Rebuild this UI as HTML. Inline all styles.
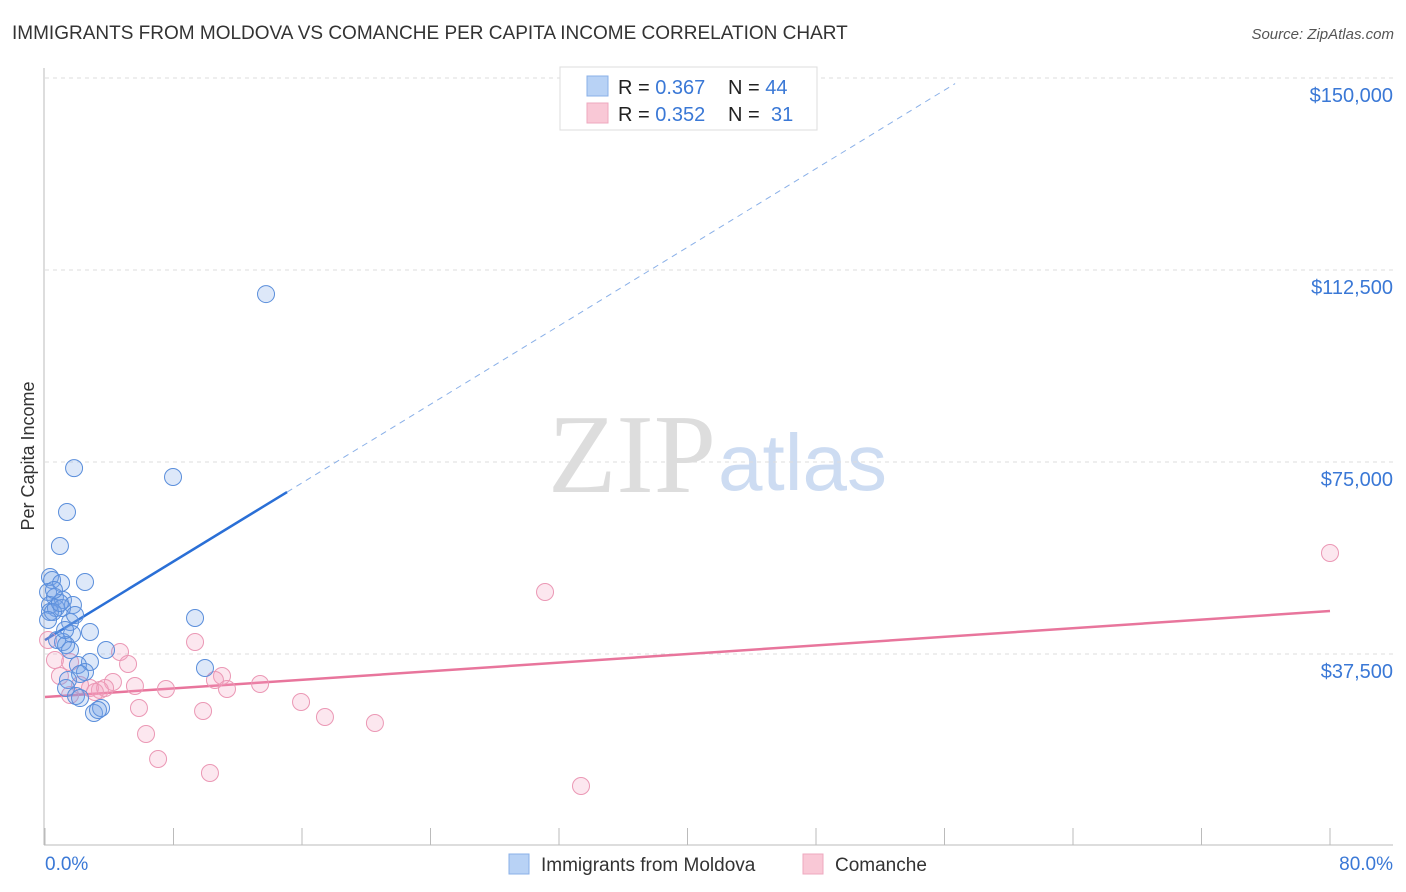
<!DOCTYPE html>
<html><head><meta charset="utf-8"><style>
body{margin:0;background:#fff;font-family:"Liberation Sans",sans-serif;}
svg{display:block}
</style></head><body>
<svg id="chart" width="1406" height="892" xmlns="http://www.w3.org/2000/svg">
<text x="12" y="39" font-size="19" fill="#333">IMMIGRANTS FROM MOLDOVA VS COMANCHE PER CAPITA INCOME CORRELATION CHART</text>
<text x="1394" y="39" font-size="15" fill="#555" font-style="italic" text-anchor="end">Source: ZipAtlas.com</text>
<text x="716" y="492" font-size="112" fill="#ddd" text-anchor="end" font-family="Liberation Serif,serif">ZIP</text>
<text x="718" y="490" font-size="80" fill="#cddcf2">atlas</text>
<text transform="translate(34,456) rotate(-90)" font-size="18" fill="#333" text-anchor="middle">Per Capita Income</text>
<g id="grid"></g><g id="axes"></g><g id="lines"></g><g id="dots"></g>
<g>
<rect x="560" y="67" width="257" height="63" fill="#fff" stroke="#ddd"/>
<rect x="587" y="76" width="21" height="20" fill="#b8d2f5" stroke="#8ab0e8"/>
<rect x="587" y="103" width="21" height="20" fill="#f9c8d6" stroke="#eea8bf"/>
<text x="618" y="94" font-size="20" fill="#222">R = <tspan fill="#3a78d6">0.367</tspan></text>
<text x="728" y="94" font-size="20" fill="#222">N = <tspan fill="#3a78d6">44</tspan></text>
<text x="618" y="121" font-size="20" fill="#222">R = <tspan fill="#3a78d6">0.352</tspan></text>
<text x="728" y="121" font-size="20" fill="#222">N = <tspan x="771" fill="#3a78d6">31</tspan></text>
</g>
<g>
<rect x="509" y="854" width="20" height="20" fill="#b8d2f5" stroke="#8ab0e8"/>
<text x="541" y="871" font-size="19" fill="#333">Immigrants from Moldova</text>
<rect x="803" y="854" width="20" height="20" fill="#f9c8d6" stroke="#eea8bf"/>
<text x="835" y="871" font-size="19" fill="#333">Comanche</text>
</g>
</svg>
<script>
const yTicks=[37500,75000,112500,150000];
const yTickLabels=["$37,500","$75,000","$112,500","$150,000"];
const blueX=[13.76,1.81,7.97,1.37,0.93,0.31,0.44,2.49,1.0,0.19,0.62,1.12,0.31,1.74,0.68,1.06,0.31,9.34,1.56,2.80,1.68,1.12,0.75,1.31,1.56,3.80,2.80,2.05,9.96,2.49,2.18,1.43,1.31,1.93,2.18,3.05,3.49,3.30,0.50,0.93,0.19,1.25,1.87,0.56];
const blueY=[107800,73800,72070,65230,58590,52540,51950,51560,51370,49610,48630,48050,47070,47070,46480,46480,45700,44530,43750,41800,41400,39840,40230,39260,38280,38280,35940,35350,34770,33980,33590,32420,30860,29300,28900,25980,26950,26560,45700,47460,44140,42190,45120,50000];
const pinkX=[80.0,31.13,9.34,4.67,5.17,0.62,1.56,11.02,10.58,4.23,0.93,5.60,7.53,11.33,3.42,2.80,2.18,13.39,15.94,5.85,9.84,17.43,20.54,6.29,7.04,10.27,33.37,0.19,1.56,3.74,3.11];
const pinkY=[57230,49610,39840,37890,35550,36330,35940,33200,32420,32030,33200,31250,30660,30660,30470,30860,31440,31640,28120,26950,26370,25200,24020,21870,16990,14260,11720,40230,29490,30860,30080];
const blueFit=[40230,1918];
const pinkFit=[29100,210];
const NS="http://www.w3.org/2000/svg";
const X=p=>45+p/80*1285, Y=v=>846-v/37500*192;
function mk(t,a,parent){const e=document.createElementNS(NS,t);for(const k in a)e.setAttribute(k,a[k]);document.getElementById(parent).appendChild(e);return e;}
yTicks.forEach((t,i)=>{
 const l=mk('line',{x1:45,x2:1393,y1:Y(t),y2:Y(t),stroke:'#ddd','stroke-dasharray':'4,4'},'grid');
 
 
 const tx=mk('text',{x:1393,y:Y(t)+24,'font-size':20,fill:'#3a78d6','text-anchor':'end'},'axes');
 tx.textContent=yTickLabels[i];
 
 
});
let a=mk('line',{x1:44,x2:44,y1:68,y2:845,stroke:'#bbb'},'axes');


a=mk('line',{x1:44,x2:1393,y1:845,y2:845,stroke:'#bbb'},'axes');


for(let i=0;i<=10;i++){const t=mk('line',{x1:X(i*8),x2:X(i*8),y1:828,y2:845,stroke:'#bbb'},'axes');
 
 }
let t=mk('text',{x:45,y:870,'font-size':19,fill:'#3a78d6'},'axes');t.textContent='0.0%';


t=mk('text',{x:1393,y:870,'font-size':19,fill:'#3a78d6','text-anchor':'end'},'axes');t.textContent='80.0%';


const bx1=15.07,bx2=56.66;
let ln=mk('line',{x1:X(0),y1:Y(blueFit[0]),x2:X(bx1),y2:Y(blueFit[0]+blueFit[1]*bx1),stroke:'#2a6fd6','stroke-width':2.5},'lines');


ln=mk('line',{x1:X(bx1),y1:Y(blueFit[0]+blueFit[1]*bx1),x2:X(bx2),y2:Y(blueFit[0]+blueFit[1]*bx2),stroke:'#8ab0e8','stroke-width':1,'stroke-dasharray':'6,5'},'lines');


ln=mk('line',{x1:X(0),y1:Y(pinkFit[0]),x2:X(80),y2:Y(pinkFit[0]+pinkFit[1]*80),stroke:'#e8759c','stroke-width':2.5},'lines');


pinkX.forEach((p,i)=>{const c=mk('circle',{cx:X(p),cy:Y(pinkY[i]),r:8.5,fill:'rgba(244,160,190,0.25)',stroke:'#eb98b5','stroke-width':1},'dots');
 
 });
blueX.forEach((p,i)=>{const c=mk('circle',{cx:X(p),cy:Y(blueY[i]),r:8.5,fill:'rgba(120,165,230,0.25)',stroke:'#5a8edb','stroke-width':1},'dots');
 
 });
</script>
</body></html>
